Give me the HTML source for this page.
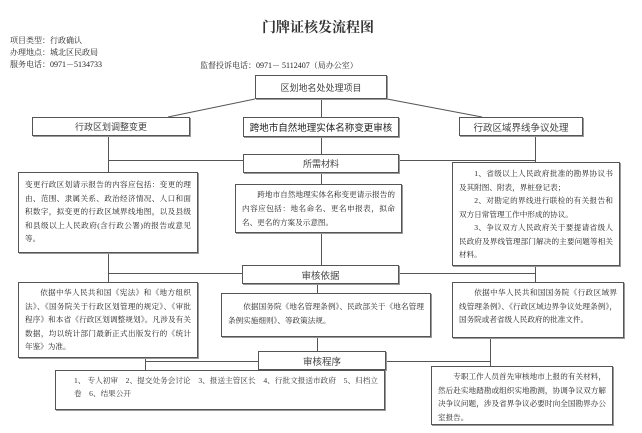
<!DOCTYPE html>
<html><head><meta charset="utf-8"><style>
body{margin:0;width:642px;height:433px;background:#fff;position:relative;overflow:hidden;font-family:"Liberation Serif","Noto Serif CJK SC","Noto Sans CJK SC",serif;color:#222}
.b{position:absolute;border:1px solid #555;background:#fff;box-sizing:border-box;box-shadow:1px 1px 0 #999}
.c{display:flex;align-items:center;justify-content:center;font-size:9px;color:#444;white-space:nowrap;font-family:"Liberation Sans","Noto Sans CJK SC",sans-serif}
.t{font-size:7.6px;line-height:13.5px;padding:5px 6px;text-align:justify}
.i{text-indent:2em}
.l{position:absolute;background:#555}
.tx{position:absolute;font-size:8px;white-space:nowrap}
</style></head><body>
<div class="tx" style="left:262px;top:17px;font-size:14px;font-weight:bold;color:#333">门牌证核发流程图</div>
<div class="tx" style="left:10px;top:35px">项目类型：行政确认</div>
<div class="tx" style="left:10px;top:47px">办理地点：城北区民政局</div>
<div class="tx" style="left:10px;top:59px">服务电话：0971－5134733</div>
<div class="tx" style="left:200px;top:60px">监督投诉电话：0971－ 5112407（局办公室）</div>
<svg style="position:absolute;left:0;top:0" width="642" height="433"><g stroke="#555" stroke-width="1"><line x1="255" y1="99" x2="168" y2="117"/><line x1="387" y1="99" x2="482" y2="117"/></g></svg>
<div class="l" style="left:321px;top:99px;width:1px;height:166px"></div>
<div class="l" style="left:108px;top:135px;width:1px;height:147px"></div>
<div class="l" style="left:535px;top:135px;width:1px;height:147px"></div>
<div class="l" style="left:108px;top:160px;width:427px;height:1px"></div>
<div class="l" style="left:108px;top:273px;width:427px;height:1px"></div>
<div class="l" style="left:317px;top:283px;width:1px;height:68px"></div>
<div class="l" style="left:145px;top:357px;width:1px;height:17px"></div>
<div class="l" style="left:145px;top:361px;width:345px;height:1px"></div>
<div class="l" style="left:490px;top:337px;width:1px;height:29px"></div>
<div class="b c" style="left:255px;top:75px;width:132px;height:24px">区划地名处处理项目</div>
<div class="b c" style="left:32px;top:117px;width:158px;height:19px">行政区划调整变更</div>
<div class="b c" style="left:243px;top:117px;width:156px;height:20px;color:#222;font-size:9.5px">跨地市自然地理实体名称变更审核</div>
<div class="b c" style="left:459px;top:117px;width:124px;height:19px;font-size:9.5px">行政区域界线争议处理</div>
<div class="b c" style="left:243px;top:154px;width:156px;height:19px">所需材料</div>
<div class="b t" style="left:18px;top:172px;width:180px;height:81px">变更行政区划请示报告的内容应包括：变更的理由、范围、隶属关系、政治经济情况、人口和面积数字，拟变更的行政区域界线地图，以及县级和县级以上人民政府(含行政公署)的报告或意见等。</div>
<div class="b t i" style="left:235px;top:184px;width:167px;height:49px;padding-top:3px;line-height:14px">跨地市自然地理实体名称变更请示报告的内容应包括：地名命名、更名申报表，拟命名、更名的方案及示意图。</div>
<div class="b t" style="left:452px;top:162px;width:168px;height:104px;padding-top:4px"><div class="i">1、省级以上人民政府批准的勘界协议书及其附图、附表，界桩登记表；</div><div class="i">2、对勘定的界线进行联检的有关报告和双方日常管理工作中形成的协议。</div><div class="i">3、争议双方人民政府关于要提请省级人民政府及界线管理部门解决的主要问题等相关材料。</div></div>
<div class="b c" style="left:242px;top:265px;width:157px;height:19px;font-size:9.5px">审核依据</div>
<div class="b t i" style="left:18px;top:282px;width:180px;height:76px;padding-top:3px">依据中华人民共和国《宪法》和《地方组织法》、《国务院关于行政区划管理的规定》、《审批程序》和本省《行政区划调整规划》。凡涉及有关数据，均以统计部门最新正式出版发行的《统计年鉴》为准。</div>
<div class="b t i" style="left:221px;top:293px;width:210px;height:44px;padding-top:6px">依据国务院《地名管理条例》、民政部关于《地名管理条例实施细则》、等政策法规。</div>
<div class="b t i" style="left:452px;top:282px;width:172px;height:56px;padding-top:3px">依据中华人民共和国国务院《行政区域界线管理条例》、《行政区域边界争议处理条例》，国务院或者省级人民政府的批准文件。</div>
<div class="b c" style="left:258px;top:351px;width:128px;height:19px;font-size:9.5px">审核程序</div>
<div class="b t" style="left:55px;top:370px;width:330px;height:40px;font-size:7.6px;padding:3px 6px 3px 18px;line-height:13px;color:#333">1、 专人初审　2、提交处务会讨论　3、报送主管区长　4、行批文报送市政府　5、归档立卷　6、结果公开</div>
<div class="b t i" style="left:431px;top:366px;width:182px;height:59px;padding-top:3px;line-height:13.5px">专职工作人员首先审核地市上报的有关材料，然后赴实地踏勘或组织实地勘测，协调争议双方解决争议问题，涉及省界争议必要时向全国勘界办公室报告。</div>
</body></html>
